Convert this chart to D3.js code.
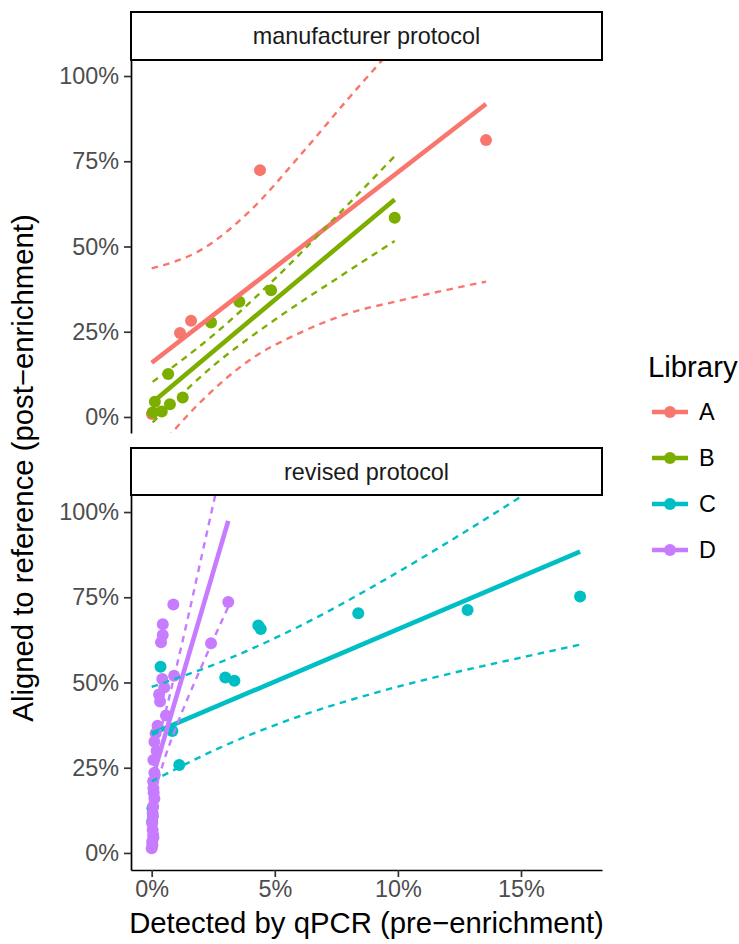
<!DOCTYPE html>
<html>
<head>
<meta charset="utf-8">
<script src="https://cdn.jsdelivr.net/npm/d3@7"></script>
<style>
  html, body { margin: 0; padding: 0; background: #ffffff; }
  svg { display: block; font-family: "Liberation Sans", Arial, Helvetica, sans-serif; }
</style>
</head>
<body>
<svg id="chart" width="739" height="944"></svg>
<script>
// ---------------- DATA (values in percent) ----------------
const libraries = ["A", "B", "C", "D"];
const libraryColors = ["#F8766D", "#7CAE00", "#00BFC4", "#C77CFF"];
const facets = ["manufacturer protocol", "revised protocol"];
const libraryFacet = [0, 0, 1, 1];

const xTicks = [0, 5, 10, 15];
const yTicks = [0, 25, 50, 75, 100];

// Points (x = detected by qPCR %, y = aligned to reference %)
const pointsAX = [0.01, 1.15, 1.60, 4.40, 13.58];
const pointsAY = [0.9, 24.6, 28.2, 72.4, 81.2];

const pointsBX = [0.04, 0.13, 0.41, 0.67, 0.74, 1.26, 2.41, 3.56, 4.85, 9.87];
const pointsBY = [1.3, 4.5, 1.6, 12.6, 3.7, 5.7, 27.7, 33.8, 37.2, 58.4];

const pointsCX = [0.02, 0.03, 0.36, 0.84, 1.12, 2.99, 3.36, 4.33, 4.43, 8.39, 12.83, 17.40];
const pointsCY = [9.2, 13.1, 54.6, 35.8, 25.8, 51.5, 50.5, 66.7, 65.7, 70.3, 71.3, 75.2];

const pointsDX = [0.88, 3.11, 0.45, 0.45, 0.38, 2.41, 0.91, 0.43, 0.51, 0.30, 0.34, 0.58, 0.24, 0.16,
                  0.11, 0.07, 0.11, 0.07, 0.11, 0.06, 0.04, 0.02, 0.04, 0.06, 0.02, 0.00,
                  0.20, 0.06, 0.08, 0.05, 0.07, 0.03];
const pointsDY = [72.9, 73.6, 67.1, 63.9, 61.8, 61.5, 52.0, 51.0, 48.5, 46.5, 44.4, 40.3, 37.3, 35.1,
                  32.6, 27.3, 23.5, 19.0, 16.0, 13.6, 11.6, 8.7, 6.7, 5.3, 3.3, 1.4,
                  30.0, 21.0, 17.7, 10.8, 4.5, 2.3];

// Linear fit lines (start / end per library)
const fitStartX = [0.00, 0.05, 0.00, 0.00];
const fitStartY = [15.9, 4.4, 34.9, 21.2];
const fitEndX   = [13.58, 9.87, 17.40, 3.11];
const fitEndY   = [91.8, 63.8, 88.4, 97.4];

// Confidence bands (dashed)
const ciAX = [0, 2, 4, 6, 8, 10, 12, 13.58];
const ciALower = [-11.5, 4.5, 16.8, 24.6, 30.4, 34.0, 37.3, 39.7];
const ciAUpper = [43.6, 49.0, 60.5, 76.5, 93.5, 110.0, 128.0, 144.0];

const ciBX = [0.04, 2.5, 5, 7.5, 9.87];
const ciBLower = [-1.6, 15.0, 28.5, 40.5, 51.6];
const ciBUpper = [10.3, 24.0, 40.5, 58.8, 76.5];

const ciCX = [0, 3, 6, 9, 12, 15, 17.4];
const ciCLower = [21.0, 31.6, 40.1, 46.8, 52.4, 57.3, 61.1];
const ciCUpper = [48.7, 56.6, 66.5, 78.2, 91.0, 104.5, 115.5];

const ciDX = [0, 0.5, 1, 1.5, 2, 2.5, 3.11];
const ciDLower = [14.6, 27.1, 37.1, 46.0, 54.3, 62.5, 72.2];
const ciDUpper = [27.8, 39.7, 54.3, 69.9, 86.1, 102.3, 122.4];

// ---------------- BUILD ----------------
const pointSets = [
  [pointsAX, pointsAY], [pointsBX, pointsBY], [pointsCX, pointsCY], [pointsDX, pointsDY]
];
const ciSets = [
  [ciAX, ciALower, ciAUpper], [ciBX, ciBLower, ciBUpper],
  [ciCX, ciCLower, ciCUpper], [ciDX, ciDLower, ciDUpper]
];

const svg = d3.select("#chart");
const panelLeft = 131, panelRight = 602;
const panelDefs = [
  { top: 60, bottom: 433, stripTop: 12, yDomain: [-4.7, 104.7] },
  { top: 495, bottom: 870, stripTop: 448, yDomain: [-5.0, 105.0] }
];

const x = d3.scaleLinear().domain([-0.84, 18.29]).range([panelLeft, panelRight]);
const color = d3.scaleOrdinal().domain(libraries).range(libraryColors);

const smallFont = 23.4, bigFont = 29.3;

panelDefs.forEach((p, fi) => {
  const y = d3.scaleLinear().domain(p.yDomain).range([p.bottom, p.top]);

  const clipId = "clip" + fi;
  svg.append("clipPath").attr("id", clipId)
    .append("rect")
    .attr("x", panelLeft).attr("y", p.top)
    .attr("width", panelRight - panelLeft).attr("height", p.bottom - p.top);

  const g = svg.append("g").attr("clip-path", `url(#${clipId})`);

  const libIdx = libraries.map((l, i) => i).filter(i => libraryFacet[i] === fi);

  // points
  libIdx.forEach(i => {
    const [xs, ys] = pointSets[i];
    g.append("g").selectAll("circle")
      .data(xs.map((v, k) => ({ x: v, y: ys[k] })))
      .join("circle")
      .attr("cx", d => x(d.x))
      .attr("cy", d => y(d.y))
      .attr("r", 6)
      .attr("fill", color(libraries[i]));
  });

  // fit lines
  libIdx.forEach(i => {
    g.append("line")
      .attr("x1", x(fitStartX[i])).attr("y1", y(fitStartY[i]))
      .attr("x2", x(fitEndX[i])).attr("y2", y(fitEndY[i]))
      .attr("stroke", color(libraries[i]))
      .attr("stroke-width", 4.6);
  });

  // dashed confidence bands
  libIdx.forEach(i => {
    const [cx, lo, hi] = ciSets[i];
    [lo, hi].forEach(arr => {
      const line = d3.line()
        .x(d => x(d[0])).y(d => y(d[1]))
        .curve(d3.curveMonotoneX);
      g.append("path")
        .attr("d", line(cx.map((v, k) => [v, arr[k]])))
        .attr("fill", "none")
        .attr("stroke", color(libraries[i]))
        .attr("stroke-width", 2.4)
        .attr("stroke-dasharray", "6.5,5.5");
    });
  });

  // strip
  svg.append("rect")
    .attr("x", panelLeft).attr("y", p.stripTop)
    .attr("width", panelRight - panelLeft).attr("height", p.top - p.stripTop)
    .attr("fill", "#ffffff").attr("stroke", "#000000").attr("stroke-width", 2);
  svg.append("text")
    .attr("x", (panelLeft + panelRight) / 2)
    .attr("y", (p.stripTop + p.top) / 2 + 8)
    .attr("text-anchor", "middle")
    .attr("font-size", smallFont)
    .attr("fill", "#1A1A1A")
    .text(facets[fi]);

  // y axis
  const yAxis = d3.axisLeft(y).tickValues(yTicks).tickFormat(d => d + "%")
    .tickSize(7).tickSizeOuter(0).tickPadding(5);
  const ga = svg.append("g").attr("transform", `translate(${panelLeft},0)`).call(yAxis);
  ga.select(".domain").attr("stroke", "#000").attr("stroke-width", 1.7);
  ga.selectAll(".tick line").attr("stroke", "#333333").attr("stroke-width", 1.7);
  ga.selectAll(".tick text").attr("font-size", smallFont).attr("fill", "#4D4D4D")
    .attr("font-family", "Liberation Sans, Arial, sans-serif");

  if (fi === 1) {
    const xAxis = d3.axisBottom(x).tickValues(xTicks).tickFormat(d => d + "%")
      .tickSize(7).tickSizeOuter(0).tickPadding(3);
    const gx = svg.append("g").attr("transform", `translate(0,${p.bottom})`).call(xAxis);
    gx.select(".domain").attr("stroke", "#000").attr("stroke-width", 1.7);
    gx.selectAll(".tick line").attr("stroke", "#333333").attr("stroke-width", 1.7);
    gx.selectAll(".tick text").attr("font-size", smallFont).attr("fill", "#4D4D4D")
      .attr("font-family", "Liberation Sans, Arial, sans-serif");
  }
});

// axis titles
svg.append("text")
  .attr("x", (panelLeft + panelRight) / 2)
  .attr("y", 933)
  .attr("text-anchor", "middle")
  .attr("font-size", bigFont)
  .attr("fill", "#000")
  .text("Detected by qPCR (pre\u2212enrichment)");

svg.append("text")
  .attr("transform", "translate(33,468) rotate(-90)")
  .attr("text-anchor", "middle")
  .attr("font-size", bigFont)
  .attr("fill", "#000")
  .text("Aligned to reference (post\u2212enrichment)");

// legend
const legend = svg.append("g");
legend.append("text")
  .attr("x", 648).attr("y", 377)
  .attr("font-size", bigFont)
  .attr("fill", "#000")
  .text("Library");

libraries.forEach((lib, i) => {
  const ky = 412 + i * 46;
  legend.append("line")
    .attr("x1", 652).attr("x2", 688).attr("y1", ky).attr("y2", ky)
    .attr("stroke", color(lib)).attr("stroke-width", 4.6);
  legend.append("circle")
    .attr("cx", 670).attr("cy", ky).attr("r", 6)
    .attr("fill", color(lib));
  legend.append("text")
    .attr("x", 699).attr("y", ky + 8.4)
    .attr("font-size", smallFont)
    .attr("fill", "#000")
    .text(lib);
});
</script>
</body>
</html>
